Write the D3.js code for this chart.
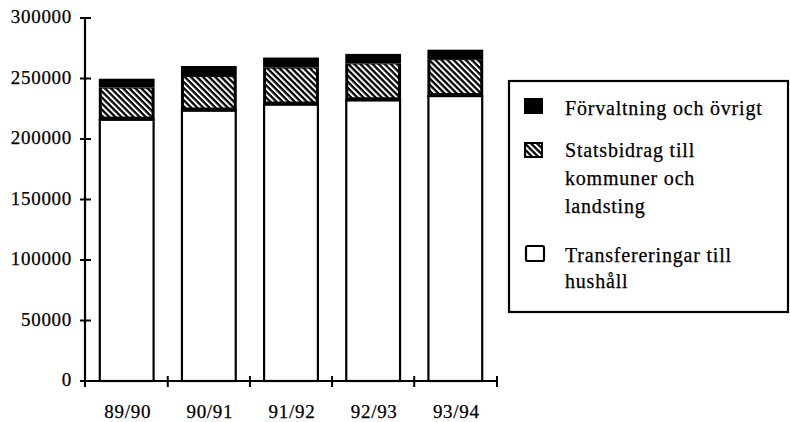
<!DOCTYPE html>
<html>
<head>
<meta charset="utf-8">
<script src="https://cdn.jsdelivr.net/npm/d3@7"></script>
<style>
  html, body { margin: 0; padding: 0; background: #fff; }
  svg { display: block; }
  text { font-family: "Liberation Serif", "Times New Roman", serif; fill: #000; stroke: #000; stroke-width: 0.25px; }
</style>
</head>
<body>
<svg id="chart" width="790" height="422"></svg>
<script>
// ---- data ----
const categories = ["89/90", "90/91", "91/92", "92/93", "93/94"];
const transfereringar = [216000, 223500, 228500, 232000, 235500];
const statsbidrag = [26500, 28500, 30500, 30500, 30500];
const forvaltning = [6500, 7500, 7500, 7000, 7000];
const yTicks = [0, 50000, 100000, 150000, 200000, 250000, 300000];
const seriesKeys = ["transfereringar", "statsbidrag", "forvaltning"];
const legendItems = [
  { key: "forvaltning", lines: ["Förvaltning och övrigt"] },
  { key: "statsbidrag", lines: ["Statsbidrag till", "kommuner och", "landsting"] },
  { key: "transfereringar", lines: ["Transfereringar till", "hushåll"] }
];

const rows = categories.map((c, i) => ({
  cat: c,
  transfereringar: transfereringar[i],
  statsbidrag: statsbidrag[i],
  forvaltning: forvaltning[i]
}));

const svg = d3.select("#chart");

// pattern: black with white diagonal stripes "\"
const defs = svg.append("defs");
const pat = defs.append("pattern")
  .attr("id", "hatch")
  .attr("patternUnits", "userSpaceOnUse")
  .attr("width", 4.3).attr("height", 10)
  .attr("patternTransform", "rotate(-45)");
pat.append("rect").attr("width", 4.3).attr("height", 10).attr("fill", "#000");
pat.append("rect").attr("x", 0).attr("width", 2).attr("height", 10).attr("fill", "#fff");

const x = d3.scaleBand().domain(categories).range([85, 497]).paddingInner(0.345).paddingOuter(0.18);
const y = d3.scaleLinear().domain([0, 300000]).range([381, 18]);

const stack = d3.stack().keys(seriesKeys)(rows);

const g = svg.append("g");
stack.forEach(layer => {
  const key = layer.key;
  layer.forEach((d, i) => {
    const bx = x(categories[i]);
    const bw = x.bandwidth();
    const y0 = y(d[0]), y1 = y(d[1]);
    if (key === "transfereringar") {
      g.append("rect").attr("x", bx).attr("y", y1).attr("width", bw).attr("height", y0 - y1)
        .attr("fill", "#fff").attr("stroke", "#000").attr("stroke-width", 2.2);
    } else if (key === "statsbidrag") {
      g.append("rect").attr("x", bx - 1).attr("y", y1).attr("width", bw + 2).attr("height", y0 - y1 + 1)
        .attr("fill", "#000");
      g.append("rect").attr("x", bx + 2).attr("y", y1 + 1).attr("width", bw - 4).attr("height", Math.max(0, y0 - y1 - 4))
        .attr("fill", "url(#hatch)");
    } else {
      g.append("rect").attr("x", bx - 1).attr("y", y1 - 1).attr("width", bw + 2).attr("height", y0 - y1 + 1)
        .attr("fill", "#000");
    }
  });
});

// y axis
const yAxis = svg.append("g");
yAxis.append("line").attr("x1", 85).attr("x2", 85).attr("y1", y(300000)).attr("y2", y(0))
  .attr("stroke", "#000").attr("stroke-width", 2.2);
yTicks.forEach(t => {
  yAxis.append("line").attr("x1", 80).attr("x2", 91).attr("y1", y(t)).attr("y2", y(t))
    .attr("stroke", "#000").attr("stroke-width", 2);
  yAxis.append("text").attr("x", 72).attr("y", y(t) + 5)
    .attr("text-anchor", "end").attr("font-size", 19).attr("letter-spacing", 0.7)
    .text(d3.format("d")(t));
});

// x axis
const xAxis = svg.append("g");
xAxis.append("line").attr("x1", 84).attr("x2", 498).attr("y1", y(0)).attr("y2", y(0))
  .attr("stroke", "#000").attr("stroke-width", 2.2);
const bounds = [85].concat(categories.map(c => x(c) + x.bandwidth() + x.step() * x.paddingInner() / 2));
bounds[bounds.length - 1] = 497;
bounds.forEach(bx => {
  xAxis.append("line").attr("x1", bx).attr("x2", bx).attr("y1", y(0) - 5).attr("y2", y(0) + 6)
    .attr("stroke", "#000").attr("stroke-width", 2);
});
categories.forEach(c => {
  xAxis.append("text").attr("x", x(c) + x.bandwidth() / 2 + 1).attr("y", 418)
    .attr("text-anchor", "middle").attr("font-size", 19).attr("letter-spacing", 0.7)
    .text(c);
});

// legend
const lg = svg.append("g");
lg.append("rect").attr("x", 509).attr("y", 81).attr("width", 279).attr("height", 231)
  .attr("fill", "#fff").attr("stroke", "#000").attr("stroke-width", 2.2);
const legendY = [98, 142, 246];
const textBase = [[115], [157, 185, 213], [262, 288]];
legendItems.forEach((it, i) => {
  const sy = legendY[i];
  if (it.key === "forvaltning") {
    lg.append("rect").attr("x", 524).attr("y", sy).attr("width", 19).attr("height", 16).attr("fill", "#000");
  } else if (it.key === "statsbidrag") {
    lg.append("rect").attr("x", 524).attr("y", sy).attr("width", 19).attr("height", 16).attr("fill", "#000");
    lg.append("rect").attr("x", 526).attr("y", sy + 2).attr("width", 15).attr("height", 12).attr("fill", "url(#hatch)");
  } else {
    lg.append("rect").attr("x", 526).attr("y", sy).attr("width", 18).attr("height", 15)
      .attr("fill", "#fff").attr("stroke", "#000").attr("stroke-width", 2.2).attr("rx", 1.5);
  }
  it.lines.forEach((ln, j) => {
    lg.append("text").attr("x", 565).attr("y", textBase[i][j])
      .attr("font-size", 20).attr("letter-spacing", 0.8).text(ln);
  });
});
</script>
</body>
</html>
